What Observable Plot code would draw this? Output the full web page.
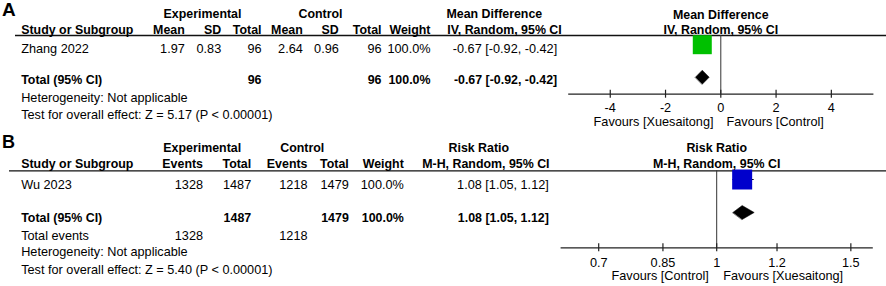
<!DOCTYPE html>
<html>
<head>
<meta charset="utf-8">
<script src="https://cdn.jsdelivr.net/npm/d3@7"></script>
<script src="https://cdn.jsdelivr.net/npm/@observablehq/plot@0.6"></script>
<style>
  body { margin: 0; background: #fff; }
  #chart { width: 886px; }
  .panel { position: relative; width: 886px; overflow: visible; }
</style>
</head>
<body>
<div id="chart"></div>
<script>
// ---------------- Panel A data (Mean Difference) ----------------
const studiesA = ["Zhang 2022"];
const expMeanA = [1.97];
const expSdA = [0.83];
const expTotalA = [96];
const ctlMeanA = [2.64];
const ctlSdA = [0.96];
const ctlTotalA = [96];
const weightA = [100.0];
const mdA = [-0.67];
const mdLowA = [-0.92];
const mdHighA = [-0.42];
const pooledTotalsA = [96, 96];          // experimental, control
const pooledWeightA = [100.0];
const pooledMdA = [-0.67, -0.92, -0.42]; // estimate, low, high
const heterogeneityA = "Heterogeneity: Not applicable";
const overallA = "Test for overall effect: Z = 5.17 (P < 0.00001)";
const ticksA = [-4, -2, 0, 2, 4];
const tickLabelsA = ["-4", "-2", "0", "2", "4"];
const favoursA = ["Favours [Xuesaitong]", "Favours [Control]"];

// ---------------- Panel B data (Risk Ratio) ----------------
const studiesB = ["Wu 2023"];
const expEventsB = [1328];
const expTotalB = [1487];
const ctlEventsB = [1218];
const ctlTotalB = [1479];
const weightB = [100.0];
const rrB = [1.08];
const rrLowB = [1.05];
const rrHighB = [1.12];
const pooledTotalsB = [1487, 1479];
const pooledEventsB = [1328, 1218];
const pooledWeightB = [100.0];
const pooledRrB = [1.08, 1.05, 1.12];
const heterogeneityB = "Heterogeneity: Not applicable";
const overallB = "Test for overall effect: Z = 5.40 (P < 0.00001)";
const ticksB = [0.7, 0.85, 1, 1.2, 1.5];
const tickLabelsB = ["0.7", "0.85", "1", "1.2", "1.5"];
const favoursB = ["Favours [Control]", "Favours [Xuesaitong]"];

// ---------------- Styling / layout ----------------
const FONT = "'Liberation Sans', Arial, Helvetica, sans-serif";
const FS = 12.7;
const FSB = 12.4;
const f2 = v => v.toFixed(2);
const ciText = (e, l, h) => `${f2(e)} [${f2(l)}, ${f2(h)}]`;
const pct = w => w.toFixed(1) + "%";

function textMarks(cells) {
  const groups = d3.groups(cells, d => `${d.anchor}|${d.bold ? "bold" : "normal"}|${d.size || (d.bold ? FSB : FS)}`);
  return groups.map(([key, data]) => {
    const [anchor, weight, size] = key.split("|");
    return Plot.text(data, {
      x: "x", y: "y", text: "text", textAnchor: anchor, lineAnchor: "bottom",
      fontWeight: weight, fontSize: +size, fontFamily: FONT, fill: "#000"
    });
  });
}

function tablePlot(L, cells) {
  return Plot.plot({
    width: 886, height: L.height,
    margin: 0,
    x: {type: "identity", axis: null},
    y: {type: "identity", axis: null},
    style: {fontFamily: FONT, background: "transparent", overflow: "visible"},
    marks: [
      Plot.ruleY([L.lineY], {x1: L.lineX1, x2: 886, stroke: "#111", strokeWidth: 1.3}),
      ...textMarks(cells)
    ]
  });
}

function forestPlot(F, spec) {
  const frameH = F.axisY - F.top;
  const idx = spec.est.map((_, i) => i);
  const dh = F.diamondHalf / (F.rowY[1] - F.rowY[0]);
  const [pe, pl, ph] = spec.pooled;
  const diamond = [
    {x: pl, y: 1}, {x: pe, y: 1 - dh}, {x: ph, y: 1}, {x: pe, y: 1 + dh}
  ];
  const ref = spec.ref;
  return Plot.plot({
    width: F.width, height: F.height,
    marginLeft: F.marginLeft, marginRight: F.marginRight,
    marginTop: F.top, marginBottom: F.height - F.axisY,
    x: {type: spec.type, domain: spec.domain, axis: null},
    y: {type: "linear", domain: [0, 1], range: F.rowY, axis: null},
    style: {fontFamily: FONT, background: "transparent", overflow: "visible"},
    marks: [
      Plot.ruleX([ref], {stroke: "#333", strokeWidth: 1}),
      Plot.frame({anchor: "bottom", stroke: "#222", strokeWidth: 1.2}),
      Plot.ruleX(spec.ticks, {x: d => d, insetTop: frameH - 4, insetBottom: -4, stroke: "#222", strokeWidth: 1.2}),
      Plot.text(spec.ticks, {x: d => d, text: (d, i) => spec.tickLabels[i], frameAnchor: "bottom", dy: F.tickDy, lineAnchor: "bottom", fontSize: FS, fontFamily: FONT, fill: "#000"}),
      Plot.ruleY(idx, {y: i => i, x1: i => spec.low[i], x2: i => spec.high[i], stroke: "#000", strokeWidth: 1}),
      Plot.dot(idx, {x: i => spec.est[i], y: i => i, symbol: "square", r: F.square / Math.sqrt(Math.PI), fill: spec.color, stroke: "none"}),
      Plot.line(diamond, {x: "x", y: "y", curve: "linear-closed", fill: "#000", stroke: "#000", strokeWidth: 0.5}),
      Plot.text([ref], {x: d => d, text: () => spec.favours[0], frameAnchor: "bottom", dy: F.favDy, dx: -F.favGap[0], textAnchor: "end", lineAnchor: "bottom", fontSize: FS, fontFamily: FONT, fill: "#000"}),
      Plot.text([ref], {x: d => d, text: () => spec.favours[1], frameAnchor: "bottom", dy: F.favDy, dx: F.favGap[1], textAnchor: "start", lineAnchor: "bottom", fontSize: FS, fontFamily: FONT, fill: "#000"}),
      Plot.text([ref], {x: d => d, text: () => spec.header[0], frameAnchor: "top", dy: F.head1Dy, lineAnchor: "bottom", fontWeight: "bold", fontSize: FSB, fontFamily: FONT, fill: "#000"}),
      Plot.text([ref], {x: d => d, text: () => spec.header[1], frameAnchor: "top", dy: F.head2Dy, lineAnchor: "bottom", fontWeight: "bold", fontSize: FSB, fontFamily: FONT, fill: "#000"})
    ]
  });
}

function mountPanel(L, F, cells, spec) {
  const div = document.createElement("div");
  div.className = "panel";
  div.style.height = L.height + "px";
  const t = tablePlot(L, cells);
  t.style.position = "absolute"; t.style.left = "0px"; t.style.top = "0px";
  const f = forestPlot(F, spec);
  f.style.position = "absolute"; f.style.left = F.left + "px"; f.style.top = "0px";
  div.appendChild(t);
  div.appendChild(f);
  document.getElementById("chart").appendChild(div);
}

// ---------------- Panel A ----------------
const LA = {height: 130, lineX1: 15, lineY: 35};
const rA = {letter: 15, h1: 17.5, h2: 33.3, study: 52.3, total: 83, het: 101.5, test: 118.5};
const cA = {study: 20.7, expMean: 184.3, expSd: 220.7, expTotal: 261, ctlMean: 302.3, ctlSd: 338.3, ctlTotal: 381, weight: 430, ci: 556.7, expHead: 202, ctlHead: 320, ciHead: 446};
const cellsA = [
  {text: "A", x: 1.5, y: rA.letter, anchor: "start", bold: true, size: 19},
  {text: "Experimental", x: cA.expHead, y: rA.h1, anchor: "middle", bold: true},
  {text: "Control", x: cA.ctlHead, y: rA.h1, anchor: "middle", bold: true},
  {text: "Mean Difference", x: cA.ciHead, y: rA.h1, anchor: "start", bold: true},
  {text: "Study or Subgroup", x: cA.study, y: rA.h2, anchor: "start", bold: true},
  {text: "Mean", x: cA.expMean, y: rA.h2, anchor: "end", bold: true},
  {text: "SD", x: cA.expSd, y: rA.h2, anchor: "end", bold: true},
  {text: "Total", x: cA.expTotal, y: rA.h2, anchor: "end", bold: true},
  {text: "Mean", x: cA.ctlMean, y: rA.h2, anchor: "end", bold: true},
  {text: "SD", x: cA.ctlSd, y: rA.h2, anchor: "end", bold: true},
  {text: "Total", x: cA.ctlTotal, y: rA.h2, anchor: "end", bold: true},
  {text: "Weight", x: cA.weight, y: rA.h2, anchor: "end", bold: true},
  {text: "IV, Random, 95% CI", x: cA.ciHead + 0.7, y: rA.h2, anchor: "start", bold: true},
  ...studiesA.flatMap((s, i) => [
    {text: s, x: cA.study, y: rA.study, anchor: "start"},
    {text: f2(expMeanA[i]), x: cA.expMean, y: rA.study, anchor: "end"},
    {text: f2(expSdA[i]), x: cA.expSd, y: rA.study, anchor: "end"},
    {text: String(expTotalA[i]), x: cA.expTotal, y: rA.study, anchor: "end"},
    {text: f2(ctlMeanA[i]), x: cA.ctlMean, y: rA.study, anchor: "end"},
    {text: f2(ctlSdA[i]), x: cA.ctlSd, y: rA.study, anchor: "end"},
    {text: String(ctlTotalA[i]), x: cA.ctlTotal, y: rA.study, anchor: "end"},
    {text: pct(weightA[i]), x: cA.weight, y: rA.study, anchor: "end"},
    {text: ciText(mdA[i], mdLowA[i], mdHighA[i]), x: cA.ci, y: rA.study, anchor: "end"}
  ]),
  {text: "Total (95% CI)", x: cA.study, y: rA.total, anchor: "start", bold: true},
  {text: String(pooledTotalsA[0]), x: cA.expTotal, y: rA.total, anchor: "end", bold: true},
  {text: String(pooledTotalsA[1]), x: cA.ctlTotal, y: rA.total, anchor: "end", bold: true},
  {text: pct(pooledWeightA[0]), x: cA.weight, y: rA.total, anchor: "end", bold: true},
  {text: ciText(...pooledMdA), x: cA.ci, y: rA.total, anchor: "end", bold: true},
  {text: heterogeneityA, x: cA.study, y: rA.het, anchor: "start"},
  {text: overallA, x: cA.study, y: rA.test, anchor: "start"}
];
const FA = {left: 560, width: 326, height: 130, marginLeft: 8.3, marginRight: 13.7, top: 35, axisY: 93.7,
  rowY: [44.2, 76.7], square: 19, diamondHalf: 7, tickDy: 18, favDy: 31.5, favGap: [7.3, 5.7], head1Dy: -17, head2Dy: -1.7};
mountPanel(LA, FA, cellsA, {
  type: "linear", domain: [-5.5, 5.5], ref: 0, ticks: ticksA, tickLabels: tickLabelsA,
  est: mdA, low: mdLowA, high: mdHighA, pooled: pooledMdA, color: "#00c000",
  favours: favoursA, header: ["Mean Difference", "IV, Random, 95% CI"]
});

// ---------------- Panel B ----------------
const LB = {height: 156, lineX1: 9, lineY: 40.3};
const rB = {letter: 17.3, h1: 21.7, h2: 37.3, study: 58.3, total: 91, events: 109.3, het: 125.7, test: 143.3};
const cB = {study: 20.7, expEvents: 202.5, expTotal: 250.7, ctlEvents: 307, ctlTotal: 348.3, weight: 403.3, ci: 548.3, expHead: 201.7, ctlHead: 301.7, ciHead1: 448, ciHead2: 421.7};
const cellsB = [
  {text: "B", x: 1.5, y: rB.letter, anchor: "start", bold: true, size: 18},
  {text: "Experimental", x: cB.expHead, y: rB.h1, anchor: "middle", bold: true},
  {text: "Control", x: cB.ctlHead, y: rB.h1, anchor: "middle", bold: true},
  {text: "Risk Ratio", x: cB.ciHead1, y: rB.h1, anchor: "start", bold: true},
  {text: "Study or Subgroup", x: cB.study, y: rB.h2, anchor: "start", bold: true},
  {text: "Events", x: cB.expEvents, y: rB.h2, anchor: "end", bold: true},
  {text: "Total", x: cB.expTotal, y: rB.h2, anchor: "end", bold: true},
  {text: "Events", x: cB.ctlEvents, y: rB.h2, anchor: "end", bold: true},
  {text: "Total", x: cB.ctlTotal, y: rB.h2, anchor: "end", bold: true},
  {text: "Weight", x: cB.weight, y: rB.h2, anchor: "end", bold: true},
  {text: "M-H, Random, 95% CI", x: cB.ciHead2, y: rB.h2, anchor: "start", bold: true},
  ...studiesB.flatMap((s, i) => [
    {text: s, x: cB.study, y: rB.study, anchor: "start"},
    {text: String(expEventsB[i]), x: cB.expEvents, y: rB.study, anchor: "end"},
    {text: String(expTotalB[i]), x: cB.expTotal, y: rB.study, anchor: "end"},
    {text: String(ctlEventsB[i]), x: cB.ctlEvents, y: rB.study, anchor: "end"},
    {text: String(ctlTotalB[i]), x: cB.ctlTotal, y: rB.study, anchor: "end"},
    {text: pct(weightB[i]), x: cB.weight, y: rB.study, anchor: "end"},
    {text: ciText(rrB[i], rrLowB[i], rrHighB[i]), x: cB.ci, y: rB.study, anchor: "end"}
  ]),
  {text: "Total (95% CI)", x: cB.study, y: rB.total, anchor: "start", bold: true},
  {text: String(pooledTotalsB[0]), x: cB.expTotal, y: rB.total, anchor: "end", bold: true},
  {text: String(pooledTotalsB[1]), x: cB.ctlTotal, y: rB.total, anchor: "end", bold: true},
  {text: pct(pooledWeightB[0]), x: cB.weight, y: rB.total, anchor: "end", bold: true},
  {text: ciText(...pooledRrB), x: cB.ci, y: rB.total, anchor: "end", bold: true},
  {text: "Total events", x: cB.study, y: rB.events, anchor: "start"},
  {text: String(pooledEventsB[0]), x: cB.expEvents, y: rB.events, anchor: "end"},
  {text: String(pooledEventsB[1]), x: cB.ctlEvents, y: rB.events, anchor: "end"},
  {text: heterogeneityB, x: cB.study, y: rB.het, anchor: "start"},
  {text: overallB, x: cB.study, y: rB.test, anchor: "start"}
];
const FB = {left: 560, width: 326, height: 156, marginLeft: 0.7, marginRight: 14.3, top: 40.3, axisY: 117.3,
  rowY: [49, 82], square: 20, diamondHalf: 7, tickDy: 19, favDy: 32.5, favGap: [7.9, 6.5], head1Dy: -18.6, head2Dy: -3};
mountPanel(LB, FB, cellsB, {
  type: "log", domain: [1 / 1.6, 1.6], ref: 1, ticks: ticksB, tickLabels: tickLabelsB,
  est: rrB, low: rrLowB, high: rrHighB, pooled: pooledRrB, color: "#0000cc",
  favours: favoursB, header: ["Risk Ratio", "M-H, Random, 95% CI"]
});
</script>
</body>
</html>
